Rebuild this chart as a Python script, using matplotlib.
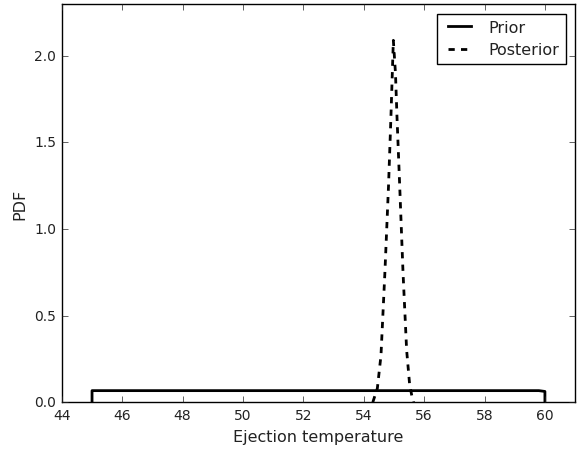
import matplotlib
matplotlib.use("Agg")
import matplotlib.pyplot as plt

# Prior: uniform over the ejection temperature range
prior_x = [45.0, 45.0, 59.8, 60.0, 60.0]
prior_y = [0.0, 0.0667, 0.0667, 0.062, 0.0]

# Posterior: narrow peak near 55
post_x = [54.3, 54.45, 54.57, 54.7, 54.82, 54.9, 54.98, 55.05, 55.1, 55.19, 55.3, 55.42, 55.52, 55.6, 55.65]
post_y = [0.0, 0.08, 0.27, 0.75, 1.25, 1.65, 2.09, 1.9, 1.65, 1.25, 0.75, 0.3, 0.1, 0.03, 0.0]

plt.style.use("classic")
fig = plt.figure(figsize=(5.78, 4.52), dpi=100, facecolor="white")
ax = fig.add_axes([0.107, 0.108, 0.888, 0.881])

ax.plot(prior_x, prior_y, color="black", linewidth=2, label="Prior")
ax.plot(post_x, post_y, color="black", linewidth=2, linestyle="--",
        dashes=(4.5, 4.5), label="Posterior")

ax.set_xlim(44, 61)
ax.set_ylim(0, 2.3)
ax.set_xticks(range(44, 62, 2))
ax.set_yticks([0.0, 0.5, 1.0, 1.5, 2.0])
ax.tick_params(labelsize=10, colors="#222222")
ax.set_xlabel("Ejection temperature", fontsize=11.5, color="#222222")
ax.set_ylabel("PDF", fontsize=11.5, color="#222222")

leg = ax.legend(loc="upper right", fontsize=11.5, labelspacing=0.45,
                handlelength=2.0, borderaxespad=0.6)
for t in leg.get_texts():
    t.set_color("#222222")

fig.savefig("out.png", dpi=100, facecolor="white")
